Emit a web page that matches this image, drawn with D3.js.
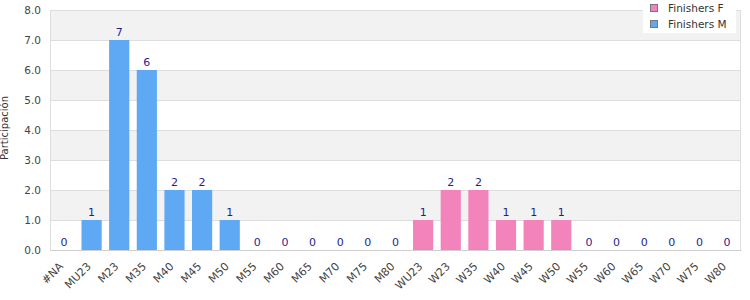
<!DOCTYPE html>
<html>
<head>
<meta charset="utf-8">
<script src="https://cdn.jsdelivr.net/npm/d3@7"></script>
<style>
  body { margin: 0; background: #fff; }
  text { font-family: "DejaVu Sans", sans-serif; }
</style>
</head>
<body>
<div id="vis"></div>
<script>
const categories = ["#NA", "MU23", "M23", "M35", "M40", "M45", "M50", "M55", "M60", "M65", "M70", "M75", "M80",
  "WU23", "W23", "W35", "W40", "W45", "W50", "W55", "W60", "W65", "W70", "W75", "W80"];
const finishersM = [0, 1, 7, 6, 2, 2, 1, 0, 0, 0, 0, 0, 0, 0, 0, 0, 0, 0, 0, 0, 0, 0, 0, 0, 0];
const finishersF = [0, 0, 0, 0, 0, 0, 0, 0, 0, 0, 0, 0, 0, 1, 2, 2, 1, 1, 1, 0, 0, 0, 0, 0, 0];
const yTicks = [0, 1, 2, 3, 4, 5, 6, 7, 8];
const seriesNames = ["Finishers F", "Finishers M"];
const seriesColors = ["#f283bb", "#5fa8f3"];

const margin = { top: 10, right: 9, bottom: 50, left: 50 };
const width = 750 - margin.left - margin.right;
const height = 300 - margin.top - margin.bottom;

const svg = d3.select("#vis")
  .append("svg")
  .attr("width", 750)
  .attr("height", 300)
  .append("g")
  .attr("transform", `translate(${margin.left},${margin.top})`);

const x = d3.scaleBand()
  .domain(categories)
  .range([0, width])
  .paddingInner(0.27)
  .paddingOuter(0.14);

const y = d3.scaleLinear()
  .domain([0, 8])
  .range([height, 0]);

// alternating bands
svg.selectAll(".band")
  .data(yTicks.slice(0, -1).filter(d => d % 2 === 1))
  .enter()
  .append("rect")
  .attr("x", 0)
  .attr("width", width)
  .attr("y", d => y(d + 1))
  .attr("height", d => y(d) - y(d + 1))
  .attr("fill", "#f2f2f2");

// gridlines
svg.selectAll(".grid")
  .data(yTicks)
  .enter()
  .append("line")
  .attr("x1", 0)
  .attr("x2", width)
  .attr("y1", d => y(d) + 0.5)
  .attr("y2", d => y(d) + 0.5)
  .attr("stroke", "#dedede");

svg.append("line")
  .attr("x1", 0.5).attr("x2", 0.5)
  .attr("y1", 0).attr("y2", height)
  .attr("stroke", "#dedede");
svg.append("line")
  .attr("x1", width - 0.5).attr("x2", width - 0.5)
  .attr("y1", 0).attr("y2", height)
  .attr("stroke", "#dedede");

const data = categories.map((c, i) => ({ cat: c, f: finishersF[i], m: finishersM[i] }));

// stacked bars: M at bottom, F on top
svg.selectAll(".barM")
  .data(data.filter(d => d.m > 0))
  .enter()
  .append("rect")
  .attr("x", d => x(d.cat))
  .attr("width", x.bandwidth())
  .attr("y", d => y(d.m))
  .attr("height", d => y(0) - y(d.m))
  .attr("fill", seriesColors[1]);

svg.selectAll(".barF")
  .data(data.filter(d => d.f > 0))
  .enter()
  .append("rect")
  .attr("x", d => x(d.cat))
  .attr("width", x.bandwidth())
  .attr("y", d => y(d.m + d.f))
  .attr("height", d => y(d.m) - y(d.m + d.f))
  .attr("fill", seriesColors[0]);

// value labels
svg.selectAll(".lbl")
  .data(data)
  .enter()
  .append("text")
  .attr("x", d => x(d.cat) + x.bandwidth() / 2)
  .attr("y", d => y(d.m + d.f) - 4)
  .attr("text-anchor", "middle")
  .attr("font-size", "11px")
  .attr("fill", "#1f1f8f")
  .text(d => d.m + d.f);

// y axis
const yAxis = svg.append("g")
  .call(d3.axisLeft(y).tickValues(yTicks).tickFormat(d3.format(".1f")).tickSize(0).tickPadding(9));
yAxis.select(".domain").remove();
yAxis.selectAll("text")
  .attr("font-size", "10.5px")
  .attr("font-family", "DejaVu Sans, sans-serif")
  .attr("fill", "#444");

// x axis
const xAxis = svg.append("g")
  .attr("transform", `translate(0,${height})`)
  .call(d3.axisBottom(x).tickSize(0).tickPadding(0));
xAxis.select(".domain")
  .attr("stroke", "#cfcfcf");
xAxis.selectAll("text")
  .attr("font-size", "11px")
  .attr("font-family", "DejaVu Sans, sans-serif")
  .attr("fill", "#444")
  .attr("text-anchor", "end")
  .attr("dy", "0")
  .attr("transform", "translate(0,17) rotate(-45)");

// y label
svg.append("text")
  .attr("transform", "rotate(-90)")
  .attr("x", -height / 2 + 2)
  .attr("y", -margin.left + 7.5)
  .attr("text-anchor", "middle")
  .attr("font-size", "10px")
  .attr("fill", "#333")
  .text("Participación");

// legend
const legend = d3.select("#vis svg").append("g")
  .attr("transform", "translate(643,0)");
legend.append("rect")
  .attr("width", 93)
  .attr("height", 33)
  .attr("fill", "#fff");
seriesNames.forEach((name, i) => {
  legend.append("rect")
    .attr("x", 7.5)
    .attr("y", 4.5 + i * 16)
    .attr("width", 7)
    .attr("height", 7)
    .attr("fill", seriesColors[i])
    .attr("stroke", "#777");
  legend.append("text")
    .attr("x", 25)
    .attr("y", 12 + i * 16)
    .attr("font-size", "10.5px")
    .attr("fill", "#333")
    .text(name);
});
</script>
</body>
</html>
